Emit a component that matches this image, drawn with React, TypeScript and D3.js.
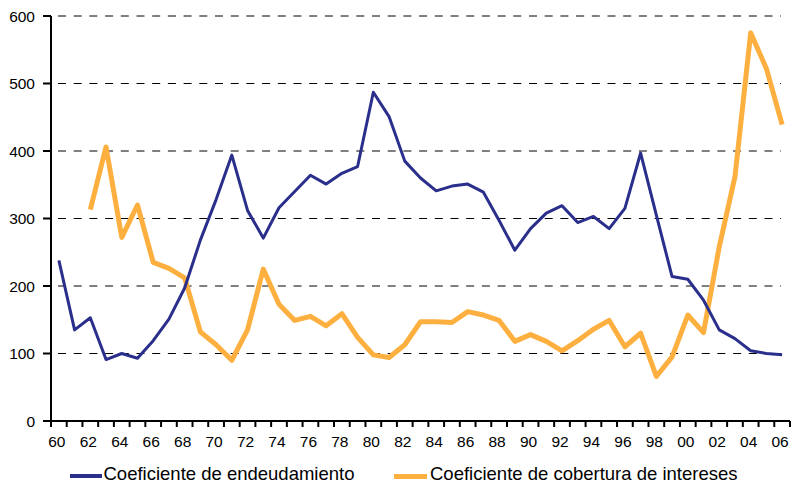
import React from "react";
import * as d3 from "d3";

const years: number[] = d3.range(1960, 2007);
const endeudamiento: number[] = [
  238, 135, 153, 91, 100, 93, 119, 151, 197, 268, 328, 394, 312, 271,
  316, 340, 364, 351, 367, 377, 487, 451, 385, 360, 341, 348, 351, 339,
  297, 253, 285, 308, 319, 294, 303, 285, 315, 397, 305, 214, 210, 179,
  135, 122, 104, 100, 98,
];
const cobertura: (number | null)[] = [
  null, null, 313, 406, 272, 320, 235, 226, 212, 132, 113, 90, 135, 225,
  173, 149, 155, 141, 159, 124, 98, 94, 113, 147, 147, 146, 162, 157,
  149, 118, 128, 118, 104, 119, 136, 149, 110, 130, 66, 95, 157, 131,
  258, 362, 575, 522, 439,
];
const yTicks: number[] = [0, 100, 200, 300, 400, 500, 600];
const seriesNames: string[] = [
  "Coeficiente de endeudamiento",
  "Coeficiente de cobertura de intereses",
];
const colors: string[] = ["#2b2f8c", "#fdb040"];

export default function App() {
  const W = 793;
  const H = 484;
  const x = d3.scaleBand<number>().domain(years).range([51, 790]).padding(0);
  const bw = x.bandwidth();
  const cx = (yr: number) => (x(yr) as number) + bw / 2;
  const y = d3.scaleLinear().domain([0, 600]).range([421, 16]);

  const line = d3
    .line<[number, number | null]>()
    .defined((d) => d[1] !== null)
    .x((d) => cx(d[0]))
    .y((d) => y(d[1] as number));

  const d1 = line(years.map((yr, i) => [yr, endeudamiento[i]]));
  const d2 = line(years.map((yr, i) => [yr, cobertura[i]]));

  const font = "'Liberation Sans', Arial, Helvetica, sans-serif";
  const boundaries = [...years.map((yr) => x(yr) as number), 790];

  return (
    <svg
      width={W}
      height={H}
      style={{ position: "absolute", left: 0, top: 0, background: "#fff" }}
      fontFamily={font}
    >
      {yTicks
        .filter((t) => t > 0)
        .map((t) => (
          <line
            key={"g" + t}
            x1={51}
            x2={781}
            y1={y(t)}
            y2={y(t)}
            stroke="#000"
            strokeWidth={1}
            strokeDasharray="8,7.7"
            strokeDashoffset={-7}
          />
        ))}
      {yTicks.map((t) => (
        <g key={"y" + t}>
          <line x1={43} x2={51} y1={y(t)} y2={y(t)} stroke="#000" strokeWidth={2} />
          <text
            x={35}
            y={y(t)}
            dy="0.36em"
            textAnchor="end"
            fontSize={15.5}
            fill="#000"
          >
            {t}
          </text>
        </g>
      ))}
      {boundaries.map((b, i) => (
        <line key={"xt" + i} x1={b} x2={b} y1={421} y2={427} stroke="#000" strokeWidth={2} />
      ))}
      {years
        .filter((yr) => yr % 2 === 0)
        .map((yr) => (
          <text
            key={"xl" + yr}
            x={cx(yr) - 2}
            y={446.5}
            textAnchor="middle"
            fontSize={15.5}
            fill="#000"
          >
            {String(yr % 100).padStart(2, "0")}
          </text>
        ))}
      <line x1={51} x2={51} y1={16} y2={425} stroke="#000" strokeWidth={2} />
      <line x1={50} x2={790} y1={421} y2={421} stroke="#000" strokeWidth={2} />
      <path d={d2 || ""} fill="none" stroke={colors[1]} strokeWidth={5} strokeLinejoin="round" />
      <path d={d1 || ""} fill="none" stroke={colors[0]} strokeWidth={3} strokeLinejoin="round" />
      <line x1={70} x2={102} y1={476} y2={476} stroke={colors[0]} strokeWidth={4} />
      <text x={103.5} y={480} fontSize={18.5} fill="#000">
        {seriesNames[0]}
      </text>
      <line x1={394} x2={427} y1={476.5} y2={476.5} stroke={colors[1]} strokeWidth={5} />
      <text x={430} y={480} fontSize={18.5} fill="#000">
        {seriesNames[1]}
      </text>
    </svg>
  );
}
